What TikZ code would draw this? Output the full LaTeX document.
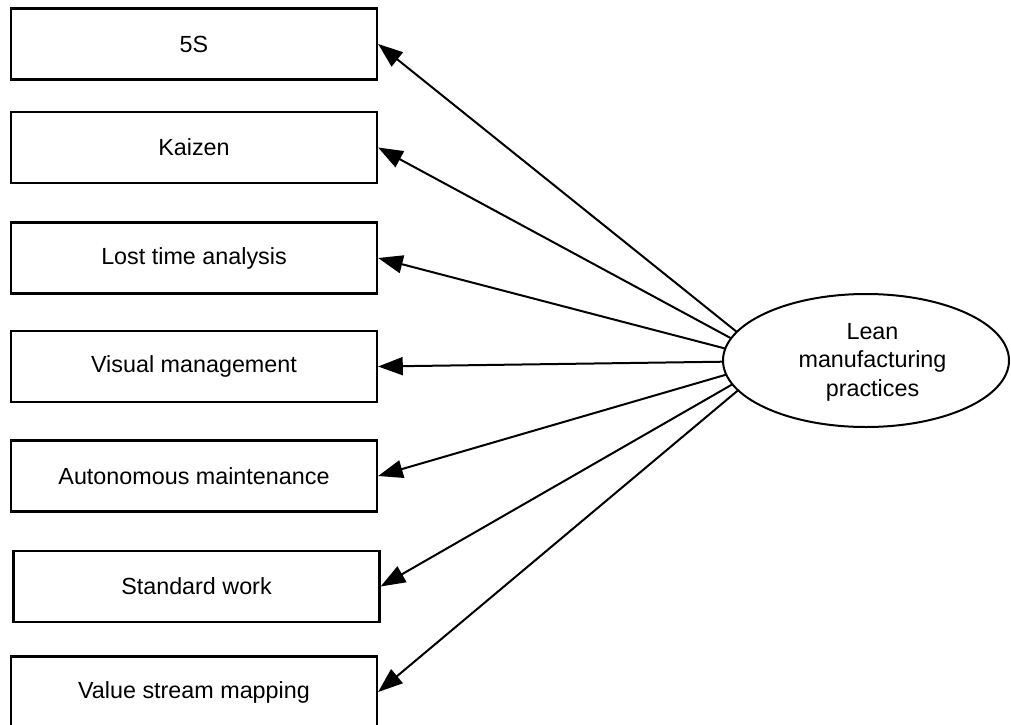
\documentclass[tikz,border=0pt]{standalone}
\usepackage{fontspec}
\setmainfont{Liberation Sans}
\usetikzlibrary{shapes.geometric,arrows.meta,intersections}
\begin{document}
\begin{tikzpicture}[x=0.75pt,y=-0.75pt,
  every node/.style={font=\fontsize{17.5}{21.4}\selectfont},
  itembox/.style={draw, line width=1.7pt, minimum width=274.5pt, minimum height=53.25pt, inner sep=0pt, align=center},
  latent/.style={draw, ellipse, line width=1.5pt, minimum width=214.5pt, minimum height=99.75pt, inner sep=0pt, align=center},
  link/.style={line width=1.5pt, -{Triangle[length=18.5pt,width=13.5pt]}}]
\useasboundingbox (0,0) rectangle (1011,725);
\node[itembox] (b1) at (194,44) {5S};
\node[itembox] (b2) at (194,147.5) {Kaizen};
\node[itembox] (b3) at (194,258) {Lost time analysis};
\node[itembox] (b4) at (194,366.5) {Visual management};
\node[itembox] (b5) at (194,476) {Autonomous maintenance};
\node[itembox] (b6) at (196.5,586.5) {Standard work};
\node[itembox] (b7) at (194,692) {Value stream mapping};
\node[latent, name path=leanpath] (lean) at (866,360.5) {};
\node[align=center, inner sep=0pt] (leantext) at (872.5,362) {Lean\\manufacturing\\practices};
\coordinate (hub) at (773,361);
\foreach \i in {1,...,7}{
  \path[name path=l\i] (hub) -- (b\i.east);
  \path[name intersections={of=leanpath and l\i, by=s\i}];
  \draw[link] (s\i) -- (b\i.east);
}
\end{tikzpicture}
\end{document}
